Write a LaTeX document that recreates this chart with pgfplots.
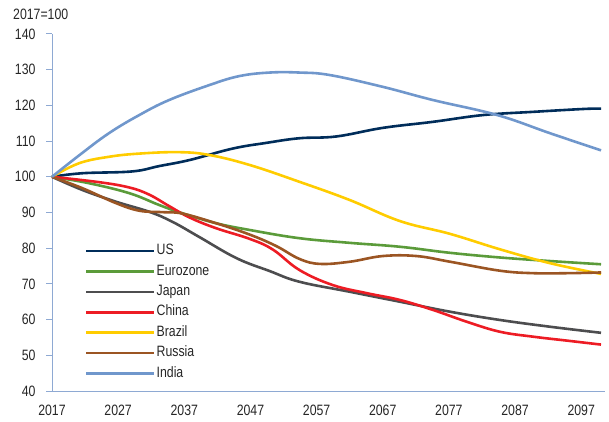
\documentclass[border=0pt]{standalone}
\usepackage{fontspec}
\setmainfont{Liberation Sans}[FakeStretch=0.82]
\usepackage{pgfplots}
\pgfplotsset{compat=1.18}

\definecolor{cUS}{HTML}{002D5A}
\definecolor{cEZ}{HTML}{5B9B3A}
\definecolor{cJP}{HTML}{4D4D4F}
\definecolor{cCN}{HTML}{ED1C24}
\definecolor{cBR}{HTML}{FFCC00}
\definecolor{cRU}{HTML}{9B5523}
\definecolor{cIN}{HTML}{7097CC}
\definecolor{axc}{HTML}{8EA9D3}

\begin{document}
\begin{tikzpicture}
\begin{axis}[
    at={(0,0)}, anchor=south west,
    scale only axis,
    width=553pt, height=357pt,
    xmin=2017, xmax=2100.6,
    ymin=40, ymax=140,
    axis lines*=left,
    axis line style={axc, line width=1pt},
    xtick={2017,2027,...,2097},
    ytick={40,50,...,140},
    xtick style={draw=none},
    ytick style={axc, line width=1pt},
    tick align=outside,
    major tick length=6pt,
    x tick label style={/pgf/number format/1000 sep={}},
    ticklabel style={font=\fontsize{15}{17}\selectfont, text=black!85},
    /pgf/number format/assume math mode=true,
    xticklabel shift=4pt,
    yticklabel shift=7pt,
    clip=false,
    every axis plot/.append style={line width=2.6pt, smooth, tension=0.65},
    legend cell align=left,
    legend style={draw=none, fill=none, at={(0.054,0.42)}, anchor=north west,
        font=\fontsize{15}{17}\selectfont, text=black!85,
        nodes={inner sep=1pt, text height=10.5pt, text depth=3pt},
        row sep=4.9pt},
    legend image code/.code={\draw[#1] (0pt,0pt) -- (68pt,0pt);},
]
\addplot[cUS] coordinates {
(2017,100) (2021.6,101) (2029.1,101.5) (2033.2,103) (2037.8,104.7)
(2044.3,107.9) (2049.4,109.5) (2054.4,110.8) (2060,111.3) (2067,113.7)
(2074.6,115.4) (2082.2,117.3) (2089.8,118.2) (2097.4,119) (2100,119.1)};
\addlegendentry{US}
\addplot[cEZ] coordinates {
(2017,100) (2022.6,98.2) (2028.7,95.4) (2033.2,92.1) (2036.7,89.8) (2041.8,87)
(2046.9,85.1) (2054.4,82.8) (2062,81.5) (2069.6,80.4) (2077.2,78.7)
(2084.7,77.4) (2092.3,76.4) (2100,75.5)};
\addlegendentry{Eurozone}
\addplot[cJP] coordinates {
(2017,100) (2021.6,96.3) (2026.7,93) (2031.7,90.2) (2035.2,87.4)
(2039.3,83.1) (2044.9,77.2) (2049.9,73.6) (2054.4,70.6) (2062,67.8) (2069.6,65)
(2077.2,62.2) (2084.7,59.9) (2092.3,58) (2100,56.3)};
\addlegendentry{Japan}
\addplot[cCN] coordinates {
(2017,100) (2024.1,98.5) (2028.7,97) (2031.7,95) (2034.7,91.8) (2037.8,88.6)
(2041.8,85.6) (2046.9,82.6) (2050.4,79.6) (2054.4,73.9) (2059.4,69.7)
(2064.6,67.4) (2069.6,65.5) (2074.6,62.7) (2079.7,59.4) (2084.7,56.6)
(2089.8,55.2) (2094.9,54.1) (2100,53)};
\addlegendentry{China}
\addplot[cBR] coordinates {
(2017,100) (2021.1,103.8) (2025.6,105.6) (2030.2,106.5) (2036.2,106.9)
(2040.8,106.1) (2046.9,103.3) (2054.4,98.6) (2062,93.5)
(2069.6,87.6) (2077.2,84) (2084.7,79.7) (2092.3,75.8) (2100,72.8)};
\addlegendentry{Brazil}
\addplot[cRU] coordinates {
(2017,100) (2021.6,96.8) (2026.7,92.6) (2030.2,90.5) (2033.7,90.1) (2036.7,89.7)
(2041.8,87) (2046.9,83.8) (2050.9,80.6) (2054.4,77) (2057.5,75.6)
(2062,76.2) (2067,77.8) (2072.1,77.8) (2077.2,76.2) (2084.7,73.7)
(2089.8,73) (2094.9,73) (2100,73.2)};
\addlegendentry{Russia}
\addplot[cIN] coordinates {
(2017,100) (2021.1,106) (2025.6,112.2) (2030.2,117.3) (2034.7,121.5) (2040.8,125.7)
(2045.3,128.2) (2049.9,129.2) (2054.4,129.2) (2059,128.5) (2067,125.2) (2074.6,121.5)
(2084.3,117.3) (2092.3,112.2) (2100,107.4)};
\addlegendentry{India}
\end{axis}
\node[anchor=base west, font=\fontsize{15}{17}\selectfont, text=black!85, inner sep=0pt]
  at (-39pt,371pt) {2017=100};
\pgfresetboundingbox
\path[use as bounding box] (-52pt,-31pt) rectangle (557pt,391pt);
\end{tikzpicture}
\end{document}
